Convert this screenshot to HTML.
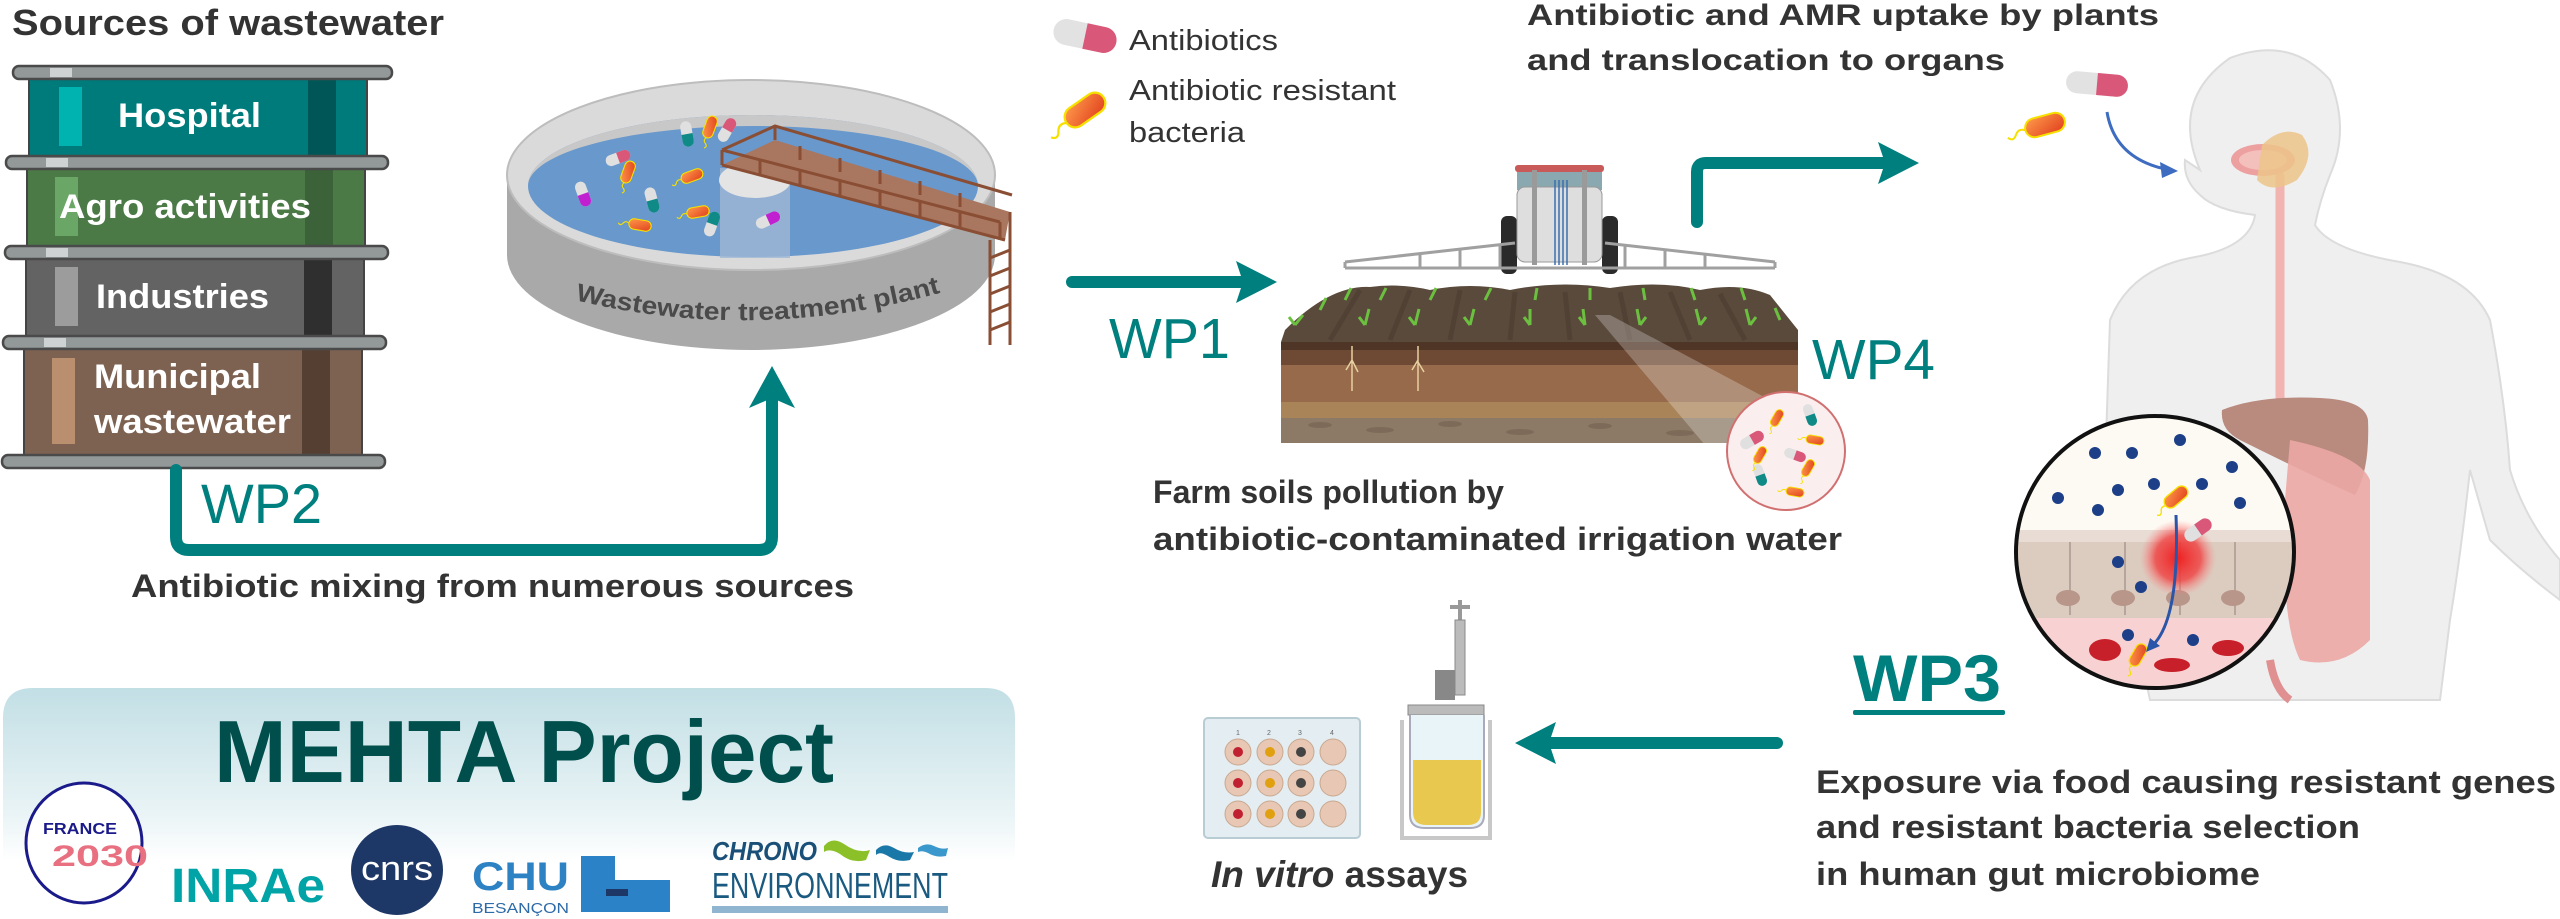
<!DOCTYPE html>
<html><head><meta charset="utf-8"><style>
html,body{margin:0;padding:0;background:#fff;}
body{width:2560px;height:919px;overflow:hidden;}
svg{display:block;font-family:"Liberation Sans",Arial,sans-serif;}
</style></head><body>
<svg width="2560" height="919" viewBox="0 0 2560 919" xmlns="http://www.w3.org/2000/svg">
<defs>
<linearGradient id="panel" x1="0" y1="0" x2="0" y2="1">
<stop offset="0" stop-color="#c2dfe5"/><stop offset="0.55" stop-color="#eaf4f6"/><stop offset="0.75" stop-color="#ffffff"/></linearGradient>
<linearGradient id="bact" x1="0" y1="0" x2="1" y2="1"><stop offset="0" stop-color="#ff9a4a"/><stop offset="1" stop-color="#e0401e"/></linearGradient>
<radialGradient id="redglow"><stop offset="0" stop-color="#ee2222"/><stop offset="0.6" stop-color="#f04040" stop-opacity="0.8"/><stop offset="1" stop-color="#f88" stop-opacity="0"/></radialGradient>
<clipPath id="magclip"><ellipse cx="2155" cy="552" rx="137" ry="134"/></clipPath>
<clipPath id="farmclip"><ellipse cx="1786" cy="451" rx="58" ry="58"/></clipPath>
<g id="pill"><rect x="-16" y="-7" width="32" height="14" rx="7" fill="#e0e0e0"/><path d="M0,-7 H9 A7,7 0 0 1 9,7 H0 Z" fill="#d9587a"/></g>
<g id="pillt"><rect x="-16" y="-7" width="32" height="14" rx="7" fill="#e0e0e0"/><path d="M0,-7 H9 A7,7 0 0 1 9,7 H0 Z" fill="#0f8a86"/></g>
<g id="pillm"><rect x="-16" y="-7" width="32" height="14" rx="7" fill="#e0e0e0"/><path d="M0,-7 H9 A7,7 0 0 1 9,7 H0 Z" fill="#c020d0"/></g>
<g id="bac"><rect x="-15" y="-7" width="30" height="14" rx="7" fill="url(#bact)" stroke="#f5e000" stroke-width="1.5"/><path d="M-15,0 q-5,-3 -8,2 q-3,4 -6,0" fill="none" stroke="#f5e000" stroke-width="1.5"/></g>
</defs>

<!-- ============ Sources of wastewater ============ -->
<text x="12" y="35" font-size="36" font-weight="bold" fill="#333" textLength="432" lengthAdjust="spacingAndGlyphs">Sources of wastewater</text>

<!-- building -->
<g>
<rect x="29" y="78" width="338" height="78" fill="#007b7b" stroke="#444" stroke-width="2"/>
<rect x="308" y="79" width="28" height="76" fill="#005656"/>
<rect x="59" y="87" width="23" height="59" fill="#00b2b0"/>
<rect x="27" y="167" width="338" height="79" fill="#4b7a47" stroke="#444" stroke-width="2"/>
<rect x="305" y="168" width="28" height="77" fill="#3b6238"/>
<rect x="55" y="177" width="23" height="59" fill="#6aa665"/>
<rect x="26" y="258" width="338" height="78" fill="#636363" stroke="#444" stroke-width="2"/>
<rect x="304" y="259" width="28" height="76" fill="#2f2f2f"/>
<rect x="55" y="267" width="23" height="59" fill="#9c9c9c"/>
<rect x="24" y="348" width="338" height="108" fill="#7e6251" stroke="#444" stroke-width="2"/>
<rect x="302" y="349" width="28" height="106" fill="#553f33"/>
<rect x="52" y="358" width="23" height="86" fill="#b98f70"/>
<g fill="#939899" stroke="#4a4a4a" stroke-width="2.5">
<rect x="13" y="66" width="379" height="13" rx="6"/>
<rect x="6" y="156" width="382" height="13" rx="6"/>
<rect x="5" y="246" width="383" height="13" rx="6"/>
<rect x="3" y="336" width="383" height="13" rx="6"/>
<rect x="2" y="455" width="383" height="13" rx="6"/>
</g>
<g fill="#cfd2d3"><rect x="50" y="68" width="22" height="9"/><rect x="46" y="158" width="22" height="9"/><rect x="46" y="248" width="22" height="9"/><rect x="44" y="338" width="22" height="9"/></g>
<g font-size="34" font-weight="bold" fill="#fff">
<text x="118" y="127" textLength="143" lengthAdjust="spacingAndGlyphs">Hospital</text>
<text x="59" y="218" textLength="252" lengthAdjust="spacingAndGlyphs">Agro activities</text>
<text x="96" y="308" textLength="173" lengthAdjust="spacingAndGlyphs">Industries</text>
<text x="94" y="388" textLength="167" lengthAdjust="spacingAndGlyphs">Municipal</text>
<text x="94" y="433" textLength="197" lengthAdjust="spacingAndGlyphs">wastewater</text>
</g>
</g>

<!-- ============ Treatment plant ============ -->
<g>
<path d="M507,175 V255 A244,95 0 0 0 995,255 V175 Z" fill="#a9a9a9"/>
<ellipse cx="751" cy="175" rx="244" ry="95" fill="#dadada" stroke="#bdbdbd" stroke-width="2"/>
<ellipse cx="753" cy="186" rx="225" ry="71" fill="#6898cc"/>
<path d="M528,186 A225,71 0 0 1 978,186 A225,60 0 0 0 528,186 Z" fill="#c8c8c8"/>
<rect x="720" y="168" width="70" height="90" fill="#9fb8d6" opacity="0.8"/>
<ellipse cx="755" cy="180" rx="36" ry="18" fill="#e4e4e4"/>
<path d="M575,300 Q760,345 950,290" id="arc" fill="none"/>
<text font-size="25" font-weight="bold" fill="#4a4a4a"><textPath href="#arc" textLength="370" lengthAdjust="spacingAndGlyphs">Wastewater treatment plant</textPath></text>
<!-- bridge -->
<polygon points="722,165 775,140 1010,212 1005,240" fill="#a97660"/>
<g stroke="#8a4e34" stroke-width="3" fill="none">
<path d="M722,150 L775,126 L1012,195"/>
<path d="M722,165 L722,150 M775,140 L775,126"/>
<path d="M722,165 L1005,240"/>
<path d="M722,150 L1000,222"/>
<path d="M760,160 v16 M800,170 v16 M840,181 v16 M880,191 v16 M920,202 v16 M960,212 v16 M1000,222 v18"/>
<path d="M800,146 v14 M840,158 v14 M880,170 v14 M920,181 v14 M960,193 v14"/>
<path d="M990,240 V345 M1010,212 V345"/>
<path d="M990,258 L1010,250 M990,276 L1010,268 M990,294 L1010,286 M990,312 L1010,304 M990,330 L1010,322"/>
</g>
<use href="#pillt" transform="translate(687,134) rotate(80) scale(0.8)"/>
<use href="#pill" transform="translate(727,130) rotate(-60) scale(0.8)"/>
<use href="#bac" transform="translate(710,127) rotate(-70) scale(0.75)"/>
<use href="#pill" transform="translate(618,158) rotate(-20) scale(0.8)"/>
<use href="#bac" transform="translate(628,172) rotate(-70) scale(0.75)"/>
<use href="#pillm" transform="translate(583,194) rotate(70) scale(0.8)"/>
<use href="#pillt" transform="translate(652,200) rotate(75) scale(0.8)"/>
<use href="#bac" transform="translate(692,176) rotate(-20) scale(0.75)"/>
<use href="#bac" transform="translate(698,212) rotate(-10) scale(0.75)"/>
<use href="#pillt" transform="translate(712,224) rotate(-70) scale(0.8)"/>
<use href="#bac" transform="translate(640,225) rotate(10) scale(0.75)"/>
<use href="#pillm" transform="translate(768,220) rotate(-25) scale(0.8)"/>
</g>

<!-- WP2 connector -->
<path d="M176,470 V537 Q176,550 189,550 H759 Q772,550 772,537 V395" fill="none" stroke="#007f7f" stroke-width="12" stroke-linecap="round"/>
<polygon points="772,366 749,408 772,398 795,408" fill="#007f7f"/>
<text x="201" y="523" font-size="56" fill="#007f7f" textLength="121" lengthAdjust="spacingAndGlyphs">WP2</text>
<text x="131" y="597" font-size="32" font-weight="bold" fill="#333" textLength="723" lengthAdjust="spacingAndGlyphs">Antibiotic mixing from numerous sources</text>

<!-- MEHTA panel -->
<path d="M3,919 V718 Q3,688 33,688 H985 Q1015,688 1015,718 V919 Z" fill="url(#panel)"/>
<text x="214" y="782" font-size="88" font-weight="bold" fill="#014f4c" textLength="620" lengthAdjust="spacingAndGlyphs">MEHTA Project</text>
<!-- logos -->
<g>
<ellipse cx="84" cy="843" rx="58" ry="60" fill="#fff" stroke="#1a1a8a" stroke-width="3"/>
<text x="43" y="834" font-size="16" font-weight="bold" fill="#1a1a8a" textLength="74" lengthAdjust="spacingAndGlyphs">FRANCE</text>
<text x="52" y="866" font-size="30" font-weight="bold" fill="#e87080" textLength="96" lengthAdjust="spacingAndGlyphs">2030</text>
<text x="171" y="902" font-size="48" font-weight="bold" fill="#00a3a6" textLength="154" lengthAdjust="spacingAndGlyphs">INRAe</text>
<ellipse cx="397" cy="870" rx="46" ry="45" fill="#1d3766"/>
<text x="361" y="880" font-size="34" fill="#fff" textLength="72" lengthAdjust="spacingAndGlyphs">cnrs</text>
<text x="472" y="890" font-size="40" font-weight="bold" fill="#2d82c4" textLength="97" lengthAdjust="spacingAndGlyphs">CHU</text>
<text x="472" y="913" font-size="15" fill="#2d6aa8" textLength="97" lengthAdjust="spacingAndGlyphs">BESANÇON</text>
<rect x="581" y="856" width="34" height="56" fill="#2b82c6"/><rect x="615" y="880" width="55" height="32" fill="#2b82c6"/><rect x="606" y="889" width="22" height="7" fill="#1d3766"/>
<text x="712" y="860" font-size="26" font-weight="bold" font-style="italic" fill="#1a4f78" textLength="105" lengthAdjust="spacingAndGlyphs">CHRONO</text>
<path d="M824,846 q8,-10 20,-2 q14,10 26,6 l-4,10 q-14,4 -26,-6 q-10,-6 -16,-2z" fill="#8cc028"/>
<path d="M876,850 q8,-8 18,-2 q10,6 20,4 l-4,8 q-12,3 -22,-4 q-8,-5 -12,-1z" fill="#1a78a8"/>
<path d="M918,848 q8,-6 16,-2 q8,4 14,2 l-2,8 q-10,2 -18,-3 q-6,-3 -10,-1z" fill="#3b98cc"/>
<text x="712" y="898" font-size="36" fill="#1a5a80" textLength="236" lengthAdjust="spacingAndGlyphs">ENVIRONNEMENT</text>
<rect x="712" y="906" width="236" height="7" fill="#8fb5d0"/>
</g>

<!-- ============ Legend ============ -->
<g transform="translate(1085,36) rotate(12)"><rect x="-32" y="-13" width="64" height="26" rx="13" fill="#e2e2e2"/><path d="M0,-13 H19 A13,13 0 0 1 19,13 H0 Z" fill="#d9587a"/></g>
<text x="1129" y="50" font-size="29" fill="#333" textLength="149" lengthAdjust="spacingAndGlyphs">Antibiotics</text>
<g transform="translate(1085,110) rotate(-35) scale(1.5)"><use href="#bac"/></g>
<text x="1129" y="100" font-size="29" fill="#333" textLength="267" lengthAdjust="spacingAndGlyphs">Antibiotic resistant</text>
<text x="1129" y="142" font-size="29" fill="#333" textLength="116" lengthAdjust="spacingAndGlyphs">bacteria</text>

<!-- WP1 arrow -->
<line x1="1072" y1="282" x2="1245" y2="282" stroke="#007f7f" stroke-width="12" stroke-linecap="round"/>
<polygon points="1236,261 1277,282 1236,303 1243,282" fill="#007f7f"/>
<text x="1109" y="358" font-size="57" fill="#007f7f" textLength="121" lengthAdjust="spacingAndGlyphs">WP1</text>

<!-- ============ Farm ============ -->
<g>
<rect x="1281" y="342" width="517" height="101" fill="#8c7a66"/>
<rect x="1281" y="342" width="517" height="8" fill="#4f3526"/>
<rect x="1281" y="350" width="517" height="15" fill="#6e4a34"/>
<rect x="1281" y="365" width="517" height="37" fill="#966a4b"/>
<rect x="1281" y="402" width="517" height="16" fill="#aa8459"/>
<g fill="#7d6a58"><ellipse cx="1320" cy="425" rx="12" ry="3"/><ellipse cx="1380" cy="430" rx="14" ry="3"/><ellipse cx="1450" cy="424" rx="12" ry="3"/><ellipse cx="1520" cy="432" rx="14" ry="3"/><ellipse cx="1600" cy="426" rx="12" ry="3"/><ellipse cx="1680" cy="433" rx="14" ry="3"/></g>
<path d="M1281,342 L1285,330 Q1330,285 1370,287 Q1400,283 1430,290 Q1470,282 1510,290 Q1560,280 1610,288 Q1660,280 1700,290 Q1740,282 1770,295 L1798,330 V342 Z" fill="#5a4a3c"/>
<g stroke="#4a3c30" stroke-width="5" opacity="0.6"><path d="M1330,340 L1360,290 M1390,340 L1410,290 M1450,340 L1460,290 M1510,340 L1515,292 M1570,340 L1565,292 M1630,340 L1620,292 M1690,340 L1670,292 M1745,340 L1720,294"/></g>
<g stroke="#e8d0a0" stroke-width="1.5" fill="none"><path d="M1352,346 v45 M1352,360 l-6,10 M1352,360 l6,12 M1418,346 v45 M1418,360 l-6,10 M1418,362 l6,10"/></g>
<g stroke="#6cc040" stroke-width="3" fill="none">
<path d="M1295,325 l8,-10 M1320,310 l6,-12 M1345,300 l6,-12 M1365,325 l4,-16 M1380,300 l6,-12 M1415,325 l4,-16 M1430,300 l6,-12 M1470,325 l4,-16 M1485,300 l6,-12 M1530,325 l0,-16 M1535,300 l2,-12 M1585,325 l-2,-16 M1590,300 l0,-12 M1640,325 l-3,-16 M1645,300 l-2,-12 M1700,325 l-4,-16 M1695,300 l-4,-12 M1750,325 l-4,-16 M1745,300 l-4,-12 M1780,320 l-5,-12"/>
<path d="M1295,325 l-6,-8 M1365,325 l-6,-8 M1415,325 l-6,-8 M1470,325 l-6,-8 M1530,325 l-6,-8 M1585,325 l-6,-8 M1640,325 l6,-8 M1700,325 l6,-8 M1750,325 l6,-8"/>
</g>
<!-- tractor -->
<rect x="1501" y="216" width="16" height="58" rx="6" fill="#2a2a2a"/>
<rect x="1602" y="216" width="16" height="58" rx="6" fill="#2a2a2a"/>
<rect x="1517" y="170" width="85" height="20" fill="#8aa8b0"/>
<rect x="1515" y="165" width="89" height="7" rx="3" fill="#c85a5a"/>
<rect x="1517" y="187" width="85" height="75" rx="8" fill="#dedede" stroke="#999"/>
<g stroke="#3a70b0" stroke-width="1.5"><path d="M1555,180 V265 M1559,180 V265 M1563,180 V265 M1567,180 V265"/></g>
<rect x="1532" y="170" width="5" height="95" fill="#9a9a9a"/><rect x="1582" y="170" width="5" height="95" fill="#9a9a9a"/>
<g stroke="#a0a0a0" stroke-width="3" fill="none">
<path d="M1345,262 L1515,243 M1345,268 H1775 M1605,243 L1775,262 M1345,262 V268 M1775,262 V268"/>
<path d="M1420,254 v14 M1460,250 v18 M1500,246 v22 M1625,246 v22 M1665,250 v18 M1705,254 v14"/>
</g>
<!-- beam & magnifier -->
<polygon points="1595,315 1610,315 1845,440 1760,510" fill="#fff" opacity="0.25"/>
<ellipse cx="1786" cy="451" rx="59" ry="59" fill="#fbeeee" stroke="#d07070" stroke-width="2"/>
<g clip-path="url(#farmclip)">
<use href="#pill" transform="translate(1752,440) rotate(-30) scale(0.8)"/>
<use href="#pillt" transform="translate(1760,475) rotate(70) scale(0.7)"/>
<use href="#pill" transform="translate(1795,455) rotate(20) scale(0.7)"/>
<use href="#bac" transform="translate(1777,418) rotate(-60) scale(0.6)"/>
<use href="#bac" transform="translate(1815,440) rotate(10) scale(0.6)"/>
<use href="#bac" transform="translate(1808,468) rotate(-60) scale(0.6)"/>
<use href="#bac" transform="translate(1795,492) rotate(10) scale(0.6)"/>
<use href="#bac" transform="translate(1760,455) rotate(-60) scale(0.6)"/>
<use href="#pillt" transform="translate(1810,415) rotate(70) scale(0.7)"/>
</g>
</g>
<text x="1153" y="503" font-size="32" font-weight="bold" fill="#333" textLength="351" lengthAdjust="spacingAndGlyphs">Farm soils pollution by</text>
<text x="1153" y="550" font-size="32" font-weight="bold" fill="#333" textLength="689" lengthAdjust="spacingAndGlyphs">antibiotic-contaminated irrigation water</text>

<!-- upper arrow to human -->
<path d="M1697,222 V172 Q1697,163 1706,163 H1885" fill="none" stroke="#007f7f" stroke-width="12" stroke-linecap="round"/>
<polygon points="1878,142 1919,163 1878,184 1885,163" fill="#007f7f"/>
<text x="1812" y="379" font-size="57" fill="#007f7f" textLength="123" lengthAdjust="spacingAndGlyphs">WP4</text>

<text x="1527" y="25" font-size="30" font-weight="bold" fill="#333" textLength="632" lengthAdjust="spacingAndGlyphs">Antibiotic and AMR uptake by plants</text>
<text x="1527" y="70" font-size="30" font-weight="bold" fill="#333" textLength="478" lengthAdjust="spacingAndGlyphs">and translocation to organs</text>

<!-- ============ Human ============ -->
<g>
<path d="M2200,170 Q2170,100 2230,58 Q2290,35 2330,80 Q2350,130 2330,175 Q2320,200 2315,225 Q2330,250 2400,262 Q2470,275 2490,320 Q2505,400 2510,470 Q2525,520 2560,560 L2560,600 Q2520,570 2490,540 L2470,470 Q2460,560 2450,620 L2440,700 L2150,700 L2120,560 Q2100,530 2105,470 L2110,320 Q2130,270 2190,258 Q2250,248 2255,215 Q2215,210 2200,195 Q2183,180 2185,160 Z" fill="#efefef" stroke="#dcdcdc" stroke-width="2"/>
<path d="M2280,176 V400" stroke="#f2b4b0" stroke-width="9" stroke-linecap="round"/>
<ellipse cx="2263" cy="160" rx="32" ry="16" fill="#eda0a0"/>
<ellipse cx="2263" cy="160" rx="24" ry="10" fill="#f4c0bc"/>
<path d="M2262,145 q20,-20 40,-10 q15,20 -5,45 q-25,15 -40,0 z" fill="#ecc48a" opacity="0.85"/>
<path d="M2222,410 Q2260,395 2320,398 Q2365,400 2368,420 Q2370,470 2355,495 Q2300,470 2240,440 Q2220,430 2222,410 Z" fill="#b98a7e"/>
<path d="M2290,440 Q2360,455 2370,480 L2370,640 Q2340,670 2300,660 Q2280,620 2285,500 Z" fill="#eba7a4" opacity="0.9"/>
<path d="M2270,660 Q2275,690 2290,700" stroke="#e09090" stroke-width="8" fill="none"/>
</g>
<!-- human magnifier -->
<g>
<ellipse cx="2155" cy="552" rx="139" ry="136" fill="#fdfaf3"/>
<g clip-path="url(#magclip)">
<rect x="2010" y="530" width="290" height="90" fill="#dccbbf"/>
<rect x="2010" y="530" width="290" height="12" fill="#e8dcd4"/>
<g stroke="#a89890" stroke-width="1.5"><path d="M2070,542 V615 M2125,542 V615 M2180,542 V615 M2235,542 V615"/></g>
<g fill="#b8968a"><ellipse cx="2068" cy="598" rx="12" ry="8"/><ellipse cx="2123" cy="598" rx="12" ry="8"/><ellipse cx="2178" cy="598" rx="12" ry="8"/><ellipse cx="2233" cy="598" rx="12" ry="8"/></g>
<rect x="2010" y="618" width="290" height="80" fill="#f8d2d2"/>
<g fill="#c8202a"><ellipse cx="2105" cy="650" rx="16" ry="11"/><ellipse cx="2172" cy="665" rx="18" ry="7"/><ellipse cx="2228" cy="648" rx="16" ry="8"/></g>
<circle cx="2178" cy="558" r="38" fill="url(#redglow)"/>
</g>
<g fill="#1c3f88"><circle cx="2095" cy="453" r="6"/><circle cx="2132" cy="453" r="6"/><circle cx="2180" cy="440" r="6"/><circle cx="2232" cy="467" r="6"/><circle cx="2058" cy="498" r="6"/><circle cx="2098" cy="510" r="6"/><circle cx="2118" cy="490" r="6"/><circle cx="2154" cy="484" r="6"/><circle cx="2202" cy="484" r="6"/><circle cx="2240" cy="503" r="6"/><circle cx="2118" cy="562" r="6"/><circle cx="2141" cy="587" r="6"/><circle cx="2128" cy="635" r="6"/><circle cx="2193" cy="640" r="6"/></g>
<use href="#bac" transform="translate(2176,497) rotate(-40) scale(0.9)"/>
<use href="#pill" transform="translate(2198,530) rotate(-35) scale(0.95)"/>
<use href="#bac" transform="translate(2138,655) rotate(-60) scale(0.8)"/>
<path d="M2176,515 Q2180,620 2152,646" fill="none" stroke="#2a55a8" stroke-width="3"/>
<polygon points="2146,652 2150,638 2160,646" fill="#2a55a8"/>
<ellipse cx="2155" cy="552" rx="139" ry="136" fill="none" stroke="#111" stroke-width="4"/>
</g>
<!-- pill & bacterium to mouth -->
<g transform="translate(2097,84) rotate(5)"><rect x="-31" y="-11" width="62" height="22" rx="11" fill="#e2e2e2"/><path d="M0,-11 H20 A11,11 0 0 1 20,11 H0 Z" fill="#d9587a"/></g>
<g transform="translate(2045,125) rotate(-15) scale(1.35)"><use href="#bac"/></g>
<path d="M2107,112 Q2115,160 2170,170" fill="none" stroke="#3d6cc0" stroke-width="3"/>
<polygon points="2178,171 2160,162 2162,178" fill="#3d6cc0"/>

<!-- WP3 -->
<text x="1853" y="701" font-size="66" font-weight="bold" fill="#007f7f" textLength="148" lengthAdjust="spacingAndGlyphs">WP3</text>
<rect x="1853" y="710" width="152" height="5" rx="2" fill="#007f7f"/>
<text x="1816" y="793" font-size="32" font-weight="bold" fill="#333" textLength="740" lengthAdjust="spacingAndGlyphs">Exposure via food causing resistant genes</text>
<text x="1816" y="838" font-size="32" font-weight="bold" fill="#333" textLength="544" lengthAdjust="spacingAndGlyphs">and resistant bacteria selection</text>
<text x="1816" y="885" font-size="32" font-weight="bold" fill="#333" textLength="444" lengthAdjust="spacingAndGlyphs">in human gut microbiome</text>

<!-- left arrow -->
<line x1="1550" y1="743" x2="1777" y2="743" stroke="#007f7f" stroke-width="12" stroke-linecap="round"/>
<polygon points="1556,722 1515,743 1556,764 1549,743" fill="#007f7f"/>

<!-- in vitro -->
<g>
<rect x="1204" y="718" width="156" height="120" rx="4" fill="#e4eef2" stroke="#b8ccd4" stroke-width="2"/>
<g font-size="7" fill="#666"><text x="1236" y="735">1</text><text x="1267" y="735">2</text><text x="1298" y="735">3</text><text x="1330" y="735">4</text></g>
<g fill="#e8c8b4" stroke="#c8a890">
<circle cx="1238" cy="752" r="13"/><circle cx="1270" cy="752" r="13"/><circle cx="1301" cy="752" r="13"/><circle cx="1333" cy="752" r="13"/>
<circle cx="1238" cy="783" r="13"/><circle cx="1270" cy="783" r="13"/><circle cx="1301" cy="783" r="13"/><circle cx="1333" cy="783" r="13"/>
<circle cx="1238" cy="814" r="13"/><circle cx="1270" cy="814" r="13"/><circle cx="1301" cy="814" r="13"/><circle cx="1333" cy="814" r="13"/>
</g>
<g fill="#c02030"><circle cx="1238" cy="752" r="5"/><circle cx="1238" cy="783" r="5"/><circle cx="1238" cy="814" r="5"/></g>
<g fill="#e0a010"><circle cx="1270" cy="752" r="5"/><circle cx="1270" cy="783" r="5"/><circle cx="1270" cy="814" r="5"/></g>
<g fill="#444"><circle cx="1301" cy="752" r="5"/><circle cx="1301" cy="783" r="5"/><circle cx="1301" cy="814" r="5"/></g>
<rect x="1458" y="600" width="4" height="20" fill="#999"/><rect x="1450" y="605" width="20" height="4" fill="#999"/>
<rect x="1455" y="620" width="10" height="75" fill="#bbb" stroke="#888"/>
<rect x="1435" y="670" width="20" height="30" fill="#888"/>
<rect x="1408" y="705" width="76" height="10" fill="#bbb" stroke="#888"/>
<path d="M1410,715 V815 Q1410,828 1425,828 H1470 Q1484,828 1484,815 V715" fill="#e8f4f8" stroke="#aab" stroke-width="2"/>
<path d="M1413,760 H1481 V812 Q1481,825 1468,825 H1426 Q1413,825 1413,812 Z" fill="#e8c030" opacity="0.85"/>
<path d="M1402,720 V838 H1490 V720" fill="none" stroke="#c8c8c8" stroke-width="4"/>
</g>
<text x="1211" y="887" font-size="37" font-weight="bold" fill="#333"><tspan font-style="italic">In vitro</tspan> assays</text>
</svg>
</body></html>
